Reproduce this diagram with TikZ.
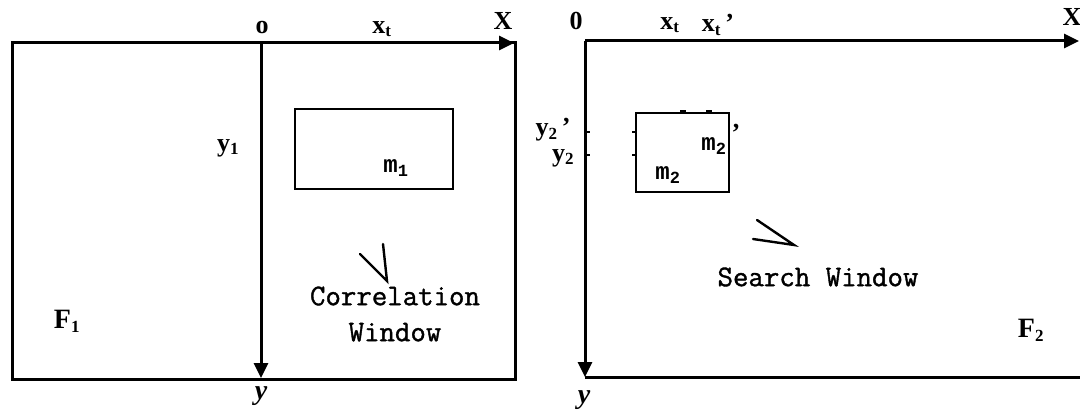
\documentclass[tikz,border=0pt]{standalone}
\usepackage{fontspec}
\setmainfont{Liberation Serif}
\newfontfamily\winfont[FakeBold=1.2]{Latin Modern Mono}
\newfontfamily\mfont{Liberation Mono}
\usetikzlibrary{arrows.meta}
\tikzset{
  frame/.style={line width=3pt},
  axis/.style={line width=3pt,-{Triangle[length=15pt,width=14pt]}},
  win/.style={line width=2.5pt},
  pointer/.style={line width=2.4pt,line cap=round},
  lbl/.style={font=\fontsize{26}{26}\selectfont\bfseries,inner sep=0pt},
  mlbl/.style={font=\fontsize{24}{24}\mfont\bfseries,inner sep=0pt},
  wtext/.style={font=\fontsize{30}{36}\winfont,inner sep=0pt,align=center},
  tick/.style={line width=2pt}
}
\newcommand{\sbs}[1]{\textsubscript{\fontsize{17}{17}\selectfont #1}}
\begin{document}
\begin{tikzpicture}[x=1pt,y=-1pt]
\useasboundingbox (0,0) rectangle (1080,412);
% ---------- left frame F1 ----------
\coordinate (L1) at (12,43);
\coordinate (L2) at (515,379);
\coordinate (o1) at (261,43);
\coordinate (x1end) at (514,43);
\coordinate (y1end) at (261,378);
\draw[frame] (L1) rectangle (L2);
\draw[axis] (o1) -- (x1end);
\draw[axis] (o1) -- (y1end);
\draw[win] (295,109) rectangle (453,189);
\node[lbl] (lo) at (262,28) {o};
\node[lbl] (lx1) at (382,29) {x\sbs{t}};
\node[lbl] (lX1) at (503,21) {X};
\node[lbl] (ly1) at (228,148) {y\sbs{1}};
\node[mlbl] (lm1) at (396,168) {m\sbs{1}};
\node[lbl,font=\fontsize{28}{28}\selectfont\bfseries] (lF1) at (67,321) {F\sbs{1}};
\node[lbl,font=\fontsize{28}{28}\selectfont\bfseries\itshape] (lyy1) at (261,396) {y};
\node[wtext] (cw) at (395,314) {Correlation\\Window};
\coordinate (p1a) at (360,254);
\coordinate (p1b) at (387,281);
\coordinate (p1c) at (383,244);
\draw[pointer] (p1a) -- (p1b) -- (p1c);
% ---------- right frame F2 ----------
\coordinate (o2) at (585,41);
\coordinate (x2end) at (1079,41);
\coordinate (y2end) at (585,377);
\coordinate (R2) at (1080,377);
\draw[frame] (y2end) -- (R2);
\draw[axis] (o2) -- (x2end);
\draw[axis] (o2) -- (y2end);
\draw[win] (636,113) rectangle (729,192);
% small marks
\draw[tick] (585,132) -- (590,132);
\draw[tick] (585,155) -- (590,155);
\draw[tick] (632,132) -- (636,132);
\draw[tick] (632,155) -- (636,155);
\fill (680,110) rectangle (686,114);
\fill (706,110) rectangle (712,114);
\node[lbl] (lo2) at (576,21) {0};
\node[lbl] (lx2) at (670,25) {x\sbs{t}};
\node[lbl] (lx2p) at (718,25) {x\sbs{t}\,'};
\node[lbl] (lX2) at (1072,17) {X};
\node[lbl] (ly2p) at (553,130) {y\sbs{2}\,'};
\node[lbl] (ly2) at (563,158) {y\sbs{2}};
\node[mlbl] (lm2p) at (714,146) {m\sbs{2}};
\node[lbl] (lm2pp) at (736,133) {'};
\node[mlbl] (lm2) at (668,175) {m\sbs{2}};
\node[lbl,font=\fontsize{28}{28}\selectfont\bfseries] (lF2) at (1031,330) {F\sbs{2}};
\node[lbl,font=\fontsize{28}{28}\selectfont\bfseries\itshape] (lyy2) at (584,400) {y};
\node[wtext] (sw) at (818,277) {Search Window};
\coordinate (p2a) at (757,220);
\coordinate (p2b) at (794,245);
\coordinate (p2c) at (753,239);
\draw[pointer] (p2a) -- (p2b) -- (p2c);
\end{tikzpicture}
\end{document}
